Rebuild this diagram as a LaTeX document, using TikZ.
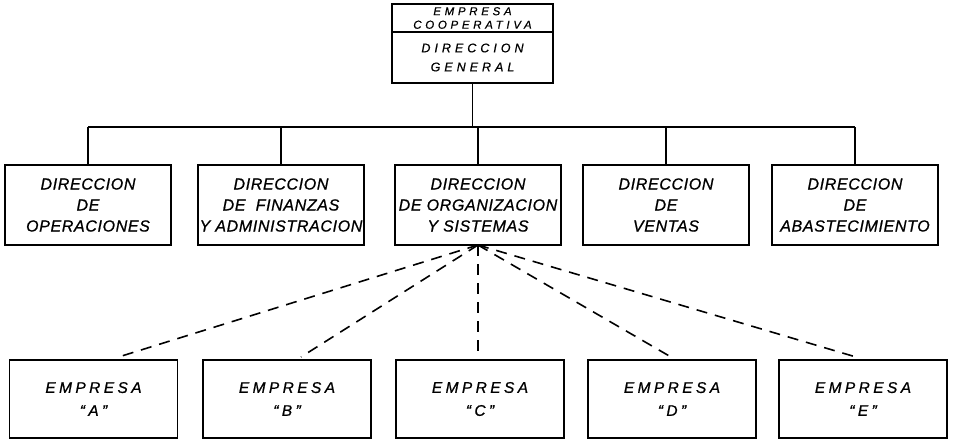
\documentclass[tikz,border=0pt]{standalone}
\usepackage{fontspec}
\newfontfamily\hand[LetterSpace=4, FakeBold=0.8]{Liberation Sans}
\newfontfamily\handwide[LetterSpace=22, FakeBold=0.8]{Liberation Sans}
\newfontfamily\handtop[LetterSpace=32, FakeBold=0.6]{Liberation Sans}
\usetikzlibrary{positioning}

\begin{document}
\begin{tikzpicture}[x=1pt, y=-1pt, line width=1.8pt]
	\useasboundingbox (0,0) rectangle (954,442);

	% box styles
	\tikzstyle{topbox} = [draw, outer sep=0pt, minimum width=161pt, align=center, inner sep=1pt]
	\tikzstyle{dirbox} = [draw, outer sep=0pt, minimum width=166pt, minimum height=80pt, align=center, inner sep=0pt, font=\hand\itshape\fontsize{16}{21}\selectfont]
	\tikzstyle{empbox} = [draw, outer sep=0pt, minimum width=168pt, minimum height=78pt, align=center, font=\handwide\itshape\fontsize{15.5}{23}\selectfont]
	\tikzstyle{link} = [line width=1.6pt, dash pattern=on 11pt off 8pt]

	\node[topbox, minimum height=28pt, font=\handtop\itshape\fontsize{11.5}{13.5}\selectfont] (coop) at (472.5,18) {EMPRESA\\COOPERATIVA};
	\node[topbox, minimum height=51pt, font=\handtop\itshape\fontsize{12.5}{19}\selectfont, below=0pt of coop] (gen) {DIRECCION\\GENERAL};

	\node[dirbox] (ops) at (88,205) {DIRECCION\\DE\\OPERACIONES};
	\node[dirbox] (fin) at (281,205) {DIRECCION\\DE~~FINANZAS\\Y ADMINISTRACION};
	\node[dirbox] (org) at (478,205) {DIRECCION\\DE ORGANIZACION\\Y SISTEMAS};
	\node[dirbox] (ven) at (666,205) {DIRECCION\\DE\\VENTAS};
	\node[dirbox] (aba) at (855,205) {DIRECCION\\DE\\ABASTECIMIENTO};

	\node[empbox] (empA) at (93.5,399) {EMPRESA\\“A”};
	\node[empbox] (empB) at (287,399) {EMPRESA\\“B”};
	\node[empbox] (empC) at (480,399) {EMPRESA\\“C”};
	\node[empbox] (empD) at (672,399) {EMPRESA\\“D”};
	\node[empbox] (empE) at (863,399) {EMPRESA\\“E”};

	% solid tree
	\coordinate (bar) at (0,127);
	\draw (gen.south) -- (gen.south |- bar);
	\draw (ops.north |- bar) -- (aba.north |- bar);
	\foreach \d in {ops, fin, org, ven, aba}
		\draw (\d.north) -- (\d.north |- bar);

	% dashed links to the companies
	\foreach \e/\dx in {empA/25, empB/14, empC/-2, empD/-1, empE/-7}
		\draw[link] (org.south) -- ([xshift=\dx pt, yshift=3pt]\e.north);
\end{tikzpicture}
\end{document}
